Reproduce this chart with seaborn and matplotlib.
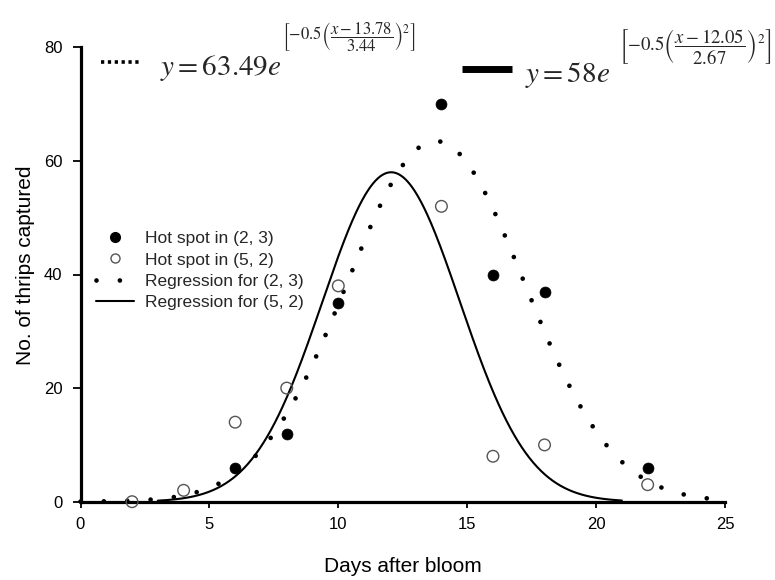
import numpy as np
import pandas as pd
import matplotlib
matplotlib.use("Agg")
import matplotlib.pyplot as plt
from matplotlib.lines import Line2D
import seaborn as sns

# Observed trap counts per sampling day
days_23 = [6, 8, 10, 14, 16, 18, 22]
thrips_23 = [6, 12, 35, 70, 40, 37, 6]
days_52 = [2, 4, 6, 8, 10, 14, 16, 18, 22]
thrips_52 = [0, 2, 14, 20, 38, 52, 8, 10, 3]

# Gaussian regression parameters: amplitude, centre, width
fit_23 = (63.49, 13.78, 3.44)
fit_52 = (58.0, 12.05, 2.67)
range_23 = (0.0, 24.3)
range_52 = (3.0, 21.0)

x_ticks = [0, 5, 10, 15, 20, 25]
y_ticks = [0, 20, 40, 60, 80]

labels = ["Hot spot in (2, 3)", "Hot spot in (5, 2)",
          "Regression for (2, 3)", "Regression for (5, 2)"]
eq_23_base = r"$y = 63.49e$"
eq_23_exp = r"$\left[-0.5\left(\dfrac{x-13.78}{3.44}\right)^{2}\right]$"
eq_52_base = r"$y = 58e$"
eq_52_exp = r"$\left[-0.5\left(\dfrac{x-12.05}{2.67}\right)^{2}\right]$"


def gauss_curve(params, span, n=600):
    a, mu, sd = params
    x = np.linspace(span[0], span[1], n)
    return pd.DataFrame({"x": x, "y": a * np.exp(-0.5 * ((x - mu) / sd) ** 2)})


sns.set_theme(style="ticks")
plt.rcParams["font.family"] = ["Liberation Sans", "DejaVu Sans"]
plt.rcParams["mathtext.fontset"] = "stix"

W, H = 775, 580
fig = plt.figure(figsize=(W / 100, H / 100), dpi=100)
x0, x1, y0, y1 = 80.5, 725.0, 47.3, 501.7
ax = fig.add_axes([x0 / W, 1 - y1 / H, (x1 - x0) / W, (y1 - y0) / H])

curve_23 = gauss_curve(fit_23, range_23)
curve_52 = gauss_curve(fit_52, range_52)

sns.lineplot(data=curve_23, x="x", y="y", ax=ax, color="black",
             linewidth=3.4, linestyle=(0, (0.001, 4.95)),
             dash_capstyle="round", clip_on=False, zorder=2)
sns.lineplot(data=curve_52, x="x", y="y", ax=ax, color="black",
             linewidth=1.5, zorder=2)

sns.scatterplot(x=days_23, y=thrips_23, ax=ax, color="black", s=62,
                edgecolor="black", linewidth=0.5, clip_on=False, zorder=4)
sns.scatterplot(x=days_52, y=thrips_52, ax=ax, facecolor="none", s=70,
                edgecolor="#555555", linewidth=1.0, clip_on=False, zorder=4)

ax.set_xlim(0, 25)
ax.set_ylim(0, 80)
ax.set_xticks(x_ticks)
ax.set_yticks(y_ticks)
ax.tick_params(axis="both", labelsize=12, colors="black", width=1.3)
ax.tick_params(axis="x", length=4, pad=7)
ax.tick_params(axis="y", length=6, pad=7)
for side in ("top", "right"):
    ax.spines[side].set_visible(False)
for side in ("left", "bottom"):
    ax.spines[side].set_linewidth(2.3)
    ax.spines[side].set_color("black")
ax.set_facecolor("white")

ax.set_xlabel("Days after bloom", fontsize=15, color="black")
ax.set_ylabel("No. of thrips captured", fontsize=15, color="black")
ax.xaxis.set_label_coords(0.5, -0.122)
ax.yaxis.set_label_coords(-0.071, 0.52)

handles = [
    Line2D([], [], linestyle="none", marker="o", markersize=7,
           markerfacecolor="black", markeredgecolor="black"),
    Line2D([], [], linestyle="none", marker="o", markersize=6.5,
           markerfacecolor="none", markeredgecolor="#555555", markeredgewidth=1.0),
    Line2D([], [], color="black", linewidth=3.4, linestyle=(0, (0.001, 4.95)),
           dash_capstyle="round"),
    Line2D([], [], color="black", linewidth=1.5),
]
ax.legend(handles, labels, loc="upper left", frameon=False, fontsize=12.5,
          bbox_to_anchor=(96 / W, 1 - 231 / H), bbox_transform=fig.transFigure,
          borderpad=0, borderaxespad=0, handlelength=2.2, handletextpad=0.65,
          labelspacing=0.36)

# Equation keys above the curves
fig.add_artist(Line2D([101 / W, 140 / W], [1 - 62 / H, 1 - 62 / H],
                      transform=fig.transFigure, color="black", linewidth=2.6,
                      linestyle=(0, (0.9, 1.0)), dash_capstyle="butt"))
fig.add_artist(Line2D([462 / W, 512 / W], [1 - 69 / H, 1 - 69 / H],
                      transform=fig.transFigure, color="black", linewidth=5,
                      solid_capstyle="butt"))
fig.text(160 / W, 1 - 75 / H, eq_23_base, fontsize=21, va="baseline", ha="left")
fig.text(282 / W, 1 - 37 / H, eq_23_exp, fontsize=12, va="center", ha="left")
fig.text(525 / W, 1 - 82 / H, eq_52_base, fontsize=21, va="baseline", ha="left")
fig.text(619 / W, 1 - 46 / H, eq_52_exp, fontsize=13.5, va="center", ha="left")

fig.savefig("out.png", dpi=100, facecolor="white")
